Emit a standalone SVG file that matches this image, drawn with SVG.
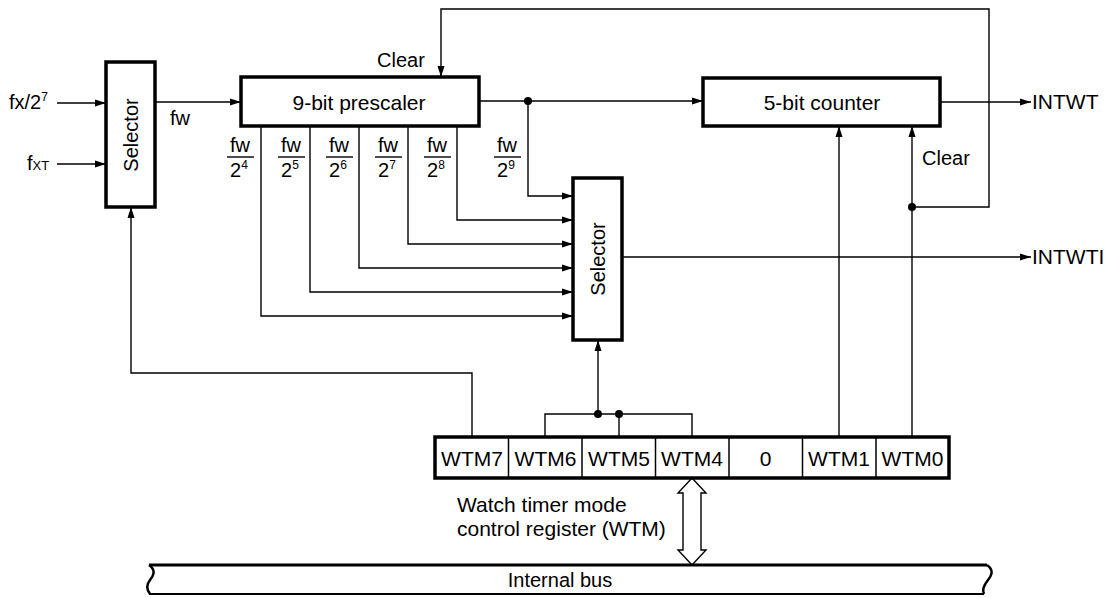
<svg xmlns="http://www.w3.org/2000/svg" width="1110" height="598" viewBox="0 0 1110 598">
<defs>
<marker id="ah" markerWidth="11" markerHeight="8" refX="11" refY="4" orient="auto" markerUnits="userSpaceOnUse">
<path d="M0,0.5 L11,4 L0,7.5 z" fill="#000"/>
</marker>
</defs>
<style>
text{font-family:"Liberation Sans",Arial,sans-serif;font-size:20px;fill:#000}
.big{font-size:21px}
.box{fill:#fff;stroke:#000;stroke-width:3.5}
.ln{fill:none;stroke:#000;stroke-width:1.4}
.arr{fill:none;stroke:#000;stroke-width:1.4;marker-end:url(#ah)}
.dot{fill:#000}
.mid{text-anchor:middle}
.sup{font-size:12px}
.cell{fill:none;stroke:#000;stroke-width:1.5}
</style>
<rect width="1110" height="598" fill="#fff"/>

<g id="connectors">
<line class="arr" x1="57" y1="103" x2="106" y2="103"/>
<line class="arr" x1="57" y1="164" x2="106" y2="164"/>
<line class="arr" x1="155" y1="102" x2="241" y2="102"/>
<line class="arr" x1="479" y1="101" x2="703" y2="101"/>
<line class="arr" x1="940" y1="102" x2="1031" y2="102"/>
<polyline class="arr" points="528,101 528,196 573,196"/>
<polyline class="arr" points="457,126 457,220 573,220"/>
<polyline class="arr" points="408,126 408,244 573,244"/>
<polyline class="arr" points="359,126 359,268 573,268"/>
<polyline class="arr" points="310,126 310,292 573,292"/>
<polyline class="arr" points="261,126 261,316 573,316"/>
<line class="arr" x1="622" y1="257" x2="1031" y2="257"/>
<polyline class="arr" points="912,207 989,207 989,9 441,9 441,77"/>
<line class="arr" x1="912" y1="437" x2="912" y2="126"/>
<line class="arr" x1="839" y1="437" x2="839" y2="126"/>
<polyline class="arr" points="472,437 472,373 131,373 131,207"/>
<polyline class="ln" points="545,437 545,414 692,414 692,437"/>
<line class="ln" x1="619" y1="414" x2="619" y2="437"/>
<line class="arr" x1="598" y1="414" x2="598" y2="340"/>
<circle class="dot" cx="598" cy="414" r="4"/>
<circle class="dot" cx="619" cy="414" r="4"/>
<circle class="dot" cx="528" cy="101" r="4"/>
<circle class="dot" cx="912" cy="207" r="4"/>
<polygon points="692,478 706,493 701,493 701,550 706,550 692,565 678,550 683,550 683,493 678,493" fill="#fff" stroke="#000" stroke-width="1.4"/>
</g>

<g id="selector1">
<rect class="box" x="106" y="62" width="49" height="145"/>
<text class="mid" transform="translate(130.5,135) rotate(-90)" dominant-baseline="central">Selector</text>
</g>

<g id="prescaler">
<rect class="box" x="241" y="77" width="238" height="49"/>
<text class="mid big" x="359" y="110">9-bit prescaler</text>
</g>

<g id="counter">
<rect class="box" x="703" y="78" width="237" height="48"/>
<text class="mid big" x="822" y="110">5-bit counter</text>
</g>

<g id="selector2">
<rect class="box" x="573" y="178" width="49" height="162"/>
<text class="mid" transform="translate(597.5,259) rotate(-90)" dominant-baseline="central">Selector</text>
</g>

<g id="register">
<rect x="435" y="437" width="514" height="41" fill="#fff" stroke="#000" stroke-width="3.5"/>
<line class="cell" x1="508.5" y1="437" x2="508.5" y2="478"/>
<line class="cell" x1="582" y1="437" x2="582" y2="478"/>
<line class="cell" x1="655.5" y1="437" x2="655.5" y2="478"/>
<line class="cell" x1="729" y1="437" x2="729" y2="478"/>
<line class="cell" x1="802.5" y1="437" x2="802.5" y2="478"/>
<line class="cell" x1="876" y1="437" x2="876" y2="478"/>
<text class="mid big" x="472" y="466">WTM7</text>
<text class="mid big" x="545.5" y="466">WTM6</text>
<text class="mid big" x="619" y="466">WTM5</text>
<text class="mid big" x="692" y="466">WTM4</text>
<text class="mid big" x="765.5" y="466">0</text>
<text class="mid big" x="839" y="466">WTM1</text>
<text class="mid big" x="912.5" y="466">WTM0</text>
</g>

<g id="bus">
<path d="M149,565 L987,565" stroke="#000" stroke-width="3" fill="none"/>
<path d="M149,594 L984,594" stroke="#000" stroke-width="2" fill="none"/>
<path d="M149,565 C156,570 154,575 150,580 C146,585 147,590 150,594" stroke="#000" stroke-width="2.5" fill="none"/>
<path d="M987,565 C994,570 992,575 988,580 C984,585 982,590 984,594" stroke="#000" stroke-width="2.5" fill="none"/>
<text class="mid" x="560" y="587">Internal bus</text>
</g>

<g id="labels">
<text x="9" y="109">fx/2<tspan class="sup" dy="-8">7</tspan></text>
<text x="27" y="170">f<tspan font-size="13">XT</tspan></text>
<text x="170" y="125">fw</text>
<text x="377" y="67">Clear</text>
<text x="922" y="165">Clear</text>
<text x="1032" y="109" class="big">INTWT</text>
<text x="1032" y="264" class="big">INTWTI</text>
<text x="457" y="512" class="big">Watch timer mode</text>
<text x="457" y="536" class="big">control register (WTM)</text>
</g>

<g id="fractions">
<g id="f4"><text class="mid" x="240" y="152">fw</text><line class="ln" x1="227" y1="157" x2="254" y2="157"/><text x="230" y="177">2<tspan class="sup" dy="-8">4</tspan></text></g>
<g id="f5"><text class="mid" x="291" y="152">fw</text><line class="ln" x1="278" y1="157" x2="305" y2="157"/><text x="281" y="177">2<tspan class="sup" dy="-8">5</tspan></text></g>
<g id="f6"><text class="mid" x="339" y="152">fw</text><line class="ln" x1="326" y1="157" x2="353" y2="157"/><text x="329" y="177">2<tspan class="sup" dy="-8">6</tspan></text></g>
<g id="f7"><text class="mid" x="388" y="152">fw</text><line class="ln" x1="375" y1="157" x2="402" y2="157"/><text x="378" y="177">2<tspan class="sup" dy="-8">7</tspan></text></g>
<g id="f8"><text class="mid" x="437" y="152">fw</text><line class="ln" x1="424" y1="157" x2="451" y2="157"/><text x="427" y="177">2<tspan class="sup" dy="-8">8</tspan></text></g>
<g id="f9"><text class="mid" x="507" y="152">fw</text><line class="ln" x1="494" y1="157" x2="521" y2="157"/><text x="497" y="177">2<tspan class="sup" dy="-8">9</tspan></text></g>
</g>
</svg>
